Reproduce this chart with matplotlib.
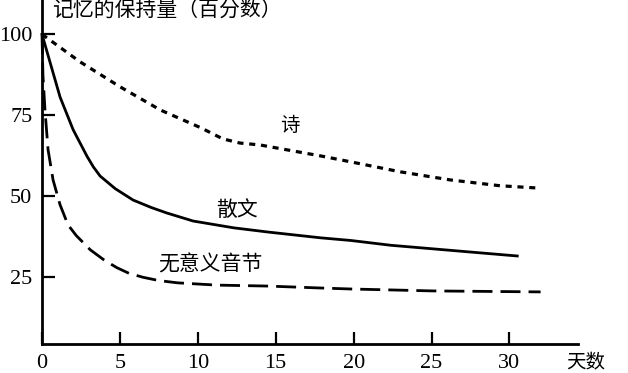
"""
Ebbinghaus-style retention curves: poem, prose and nonsense syllables.
"""

import matplotlib
matplotlib.use('Agg')
import matplotlib.pyplot as plt

CJK = ['Noto Sans CJK SC', 'DejaVu Sans']
SERIF = ['Liberation Serif', 'DejaVu Serif']
plt.rcParams['font.family'] = SERIF

# retention (percent), per series
poem_days = [0, 2.44, 5.0, 7.6, 10.2, 11.6, 12.7, 14.0, 17.9, 19.8, 23.0,
             26.2, 29.4, 31.8]
poem_vals = [100, 91.5, 83.8, 76.6, 71.1, 67.7, 66.4, 65.8, 62.4, 60.6, 57.5,
             55.0, 53.2, 52.5]

prose_days = [0, 1.16, 2.0, 2.89, 3.3, 3.73, 4.7, 5.84, 7.0, 8.0, 9.7, 12.3,
              14.5, 17.9, 19.8, 22.4, 25.1, 27.3, 30.5]
prose_vals = [100, 80.6, 70.5, 62.3, 59.0, 56.2, 52.3, 48.8, 46.5, 44.8, 42.3,
              40.2, 38.9, 37.1, 36.3, 34.8, 33.7, 32.8, 31.5]

syll_days = [0, 0.06, 0.19, 0.39, 0.71, 1.16, 1.67, 2.2, 3.1, 4.0, 4.8, 5.6,
             6.5, 7.5, 8.7, 11.2, 14.5, 17.9, 19.8, 25.1, 32.0]
syll_vals = [100, 87.4, 76.6, 64.3, 55.0, 47.3, 41.1, 37.8, 33.4, 30.2, 27.9,
             26.1, 24.9, 23.9, 23.2, 22.5, 22.2, 21.6, 21.3, 20.7, 20.4]

x_ticks = [0, 5, 10, 15, 20, 25, 30]
y_ticks = [25, 50, 75, 100]

series_labels = ['诗', '散文', '无意义音节']
y_title = '记忆的保持量（百分数）'
x_title = '天数'


def generate_chart():
    W, H = 628, 373
    fig = plt.figure(figsize=(W / 100, H / 100), dpi=100)
    fig.patch.set_facecolor('white')

    # axes box in pixels: y axis at x=42, x axis at y=344
    ax = fig.add_axes([42 / W, (H - 344) / H, (578 - 42) / W, 344 / H])
    ax.set_xlim(0, 34.4)
    ax.set_ylim(4.3, 110.6)

    ax.plot(poem_days, poem_vals, color='black', lw=2.3,
            dashes=(1.9, 1.8), clip_on=False)
    ax.plot(prose_days, prose_vals, color='black', lw=2.0, clip_on=False)
    ax.plot(syll_days, syll_vals, color='black', lw=2.0,
            dashes=(7.2, 2.9), clip_on=False)

    # series labels
    ax.text(15.9, 71.7, series_labels[0], fontsize=14, family=CJK,
            ha='center', va='center')
    ax.text(12.5, 45.7, series_labels[1], fontsize=15, family=CJK,
            ha='center', va='center')
    ax.text(10.8, 29.0, series_labels[2], fontsize=15, family=CJK,
            ha='center', va='center')

    for side in ['top', 'right']:
        ax.spines[side].set_visible(False)
    for side in ['left', 'bottom']:
        ax.spines[side].set_linewidth(2.0)

    ax.set_xticks(x_ticks)
    ax.set_yticks(y_ticks)
    ax.tick_params(direction='in', length=9, width=1.6, labelsize=16)
    ax.tick_params(axis='x', pad=7.5)
    ax.tick_params(axis='y', pad=7)

    fig.text(52 / W, 1 - 11 / H, y_title, fontsize=15, family=CJK,
             ha='left', va='center')
    fig.text(586 / W, 1 - 363 / H, x_title, fontsize=14, family=CJK,
             ha='center', va='center')

    return fig


if __name__ == '__main__':
    fig = generate_chart()
    fig.savefig('out.png', dpi=100, facecolor='white', edgecolor='none')
    plt.close(fig)
